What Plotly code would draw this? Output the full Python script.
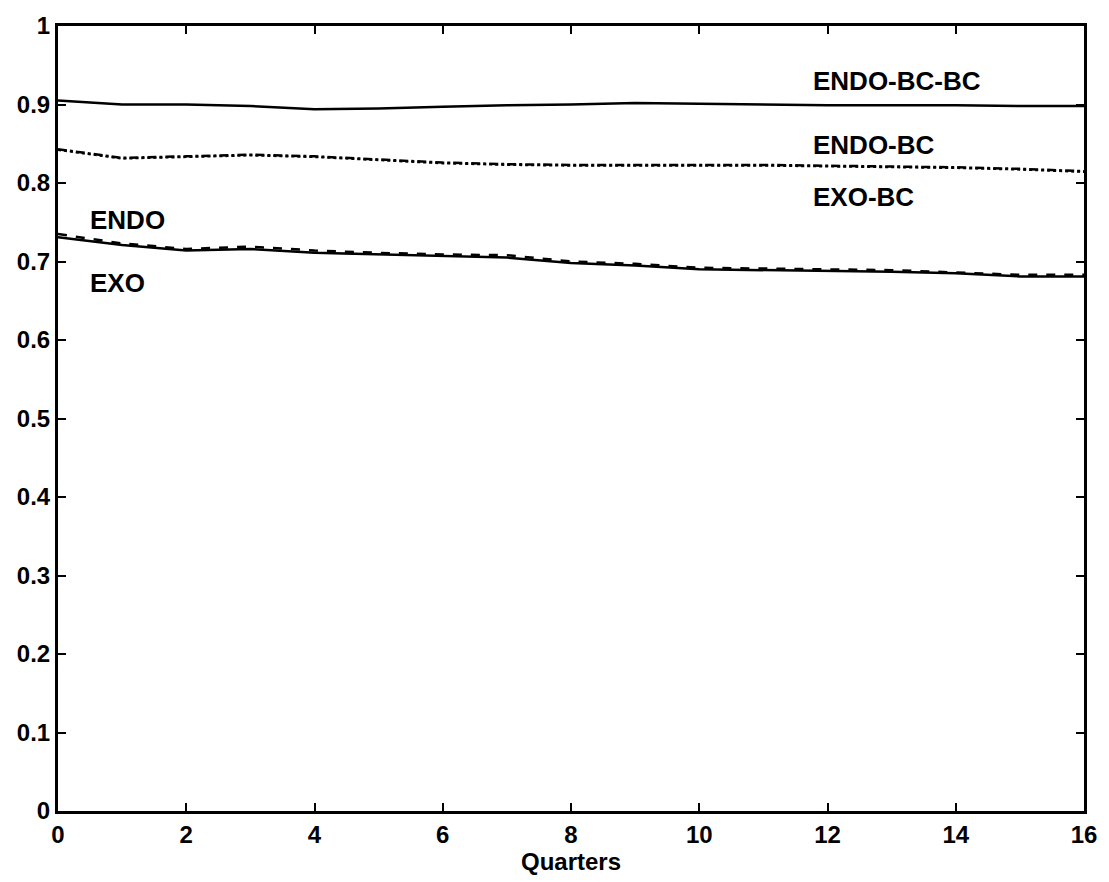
import plotly.graph_objects as go

quarters = list(range(17))
endo_bc_bc = [0.905, 0.900, 0.900, 0.898, 0.894, 0.895, 0.897, 0.899, 0.900, 0.902, 0.901, 0.900, 0.899, 0.899, 0.899, 0.898, 0.898]
endo_bc = [0.843, 0.832, 0.834, 0.836, 0.834, 0.830, 0.826, 0.824, 0.823, 0.823, 0.823, 0.823, 0.822, 0.821, 0.820, 0.818, 0.815]
exo_bc = [0.842, 0.831, 0.833, 0.835, 0.833, 0.829, 0.825, 0.823, 0.822, 0.822, 0.822, 0.822, 0.821, 0.820, 0.819, 0.817, 0.814]
endo = [0.735, 0.723, 0.716, 0.719, 0.714, 0.711, 0.709, 0.708, 0.700, 0.697, 0.692, 0.691, 0.690, 0.689, 0.686, 0.683, 0.683]
exo = [0.731, 0.721, 0.714, 0.716, 0.711, 0.709, 0.707, 0.705, 0.698, 0.695, 0.690, 0.689, 0.688, 0.687, 0.685, 0.681, 0.681]

x_ticks = list(range(0, 17, 2))
y_ticks = [0, 0.1, 0.2, 0.3, 0.4, 0.5, 0.6, 0.7, 0.8, 0.9, 1]
y_tick_labels = ["0", "0.1", "0.2", "0.3", "0.4", "0.5", "0.6", "0.7", "0.8", "0.9", "1"]

labels = [
    ("ENDO-BC-BC", 11.75, 0.930),
    ("ENDO-BC", 11.75, 0.848),
    ("EXO-BC", 11.75, 0.782),
    ("ENDO", 0.47, 0.753),
    ("EXO", 0.47, 0.673),
]

FONT = "Liberation Sans, Arial"

fig = go.Figure()
line_col = "black"
fig.add_trace(go.Scatter(x=quarters, y=endo_bc_bc, mode="lines", name="ENDO-BC-BC",
                         line=dict(color=line_col, width=2.5)))
fig.add_trace(go.Scatter(x=quarters, y=endo_bc, mode="lines", name="ENDO-BC",
                         line=dict(color=line_col, width=2.5, dash="dashdot")))
fig.add_trace(go.Scatter(x=quarters, y=exo_bc, mode="lines", name="EXO-BC",
                         line=dict(color=line_col, width=2, dash="dot")))
fig.add_trace(go.Scatter(x=quarters, y=endo, mode="lines", name="ENDO",
                         line=dict(color=line_col, width=2.5, dash="dash")))
fig.add_trace(go.Scatter(x=quarters, y=exo, mode="lines", name="EXO",
                         line=dict(color=line_col, width=2.5)))

for text, xv, yv in labels:
    fig.add_annotation(x=xv, y=yv, text=text, showarrow=False, xanchor="left", yanchor="middle",
                       font=dict(family=FONT, size=26, color="black", weight="bold"))

axis_common = dict(showgrid=False, zeroline=False, showline=True, linecolor="black", linewidth=3,
                   mirror="allticks", ticks="inside", ticklen=8, tickwidth=2, tickcolor="black",
                   tickfont=dict(family=FONT, size=24, color="black", weight="bold"))

fig.update_layout(
    width=1109, height=882,
    margin=dict(l=58, r=23, t=14, b=70),
    paper_bgcolor="white", plot_bgcolor="white",
    showlegend=False,
    xaxis=dict(range=[0, 16], tickvals=x_ticks, ticktext=[str(v) for v in x_ticks],
               title=dict(text="Quarters", font=dict(family=FONT, size=24, color="black", weight="bold"), standoff=5),
               **axis_common),
    yaxis=dict(range=[0, 1], tickvals=y_ticks, ticktext=y_tick_labels, **axis_common),
)

fig.write_html("out.html")
